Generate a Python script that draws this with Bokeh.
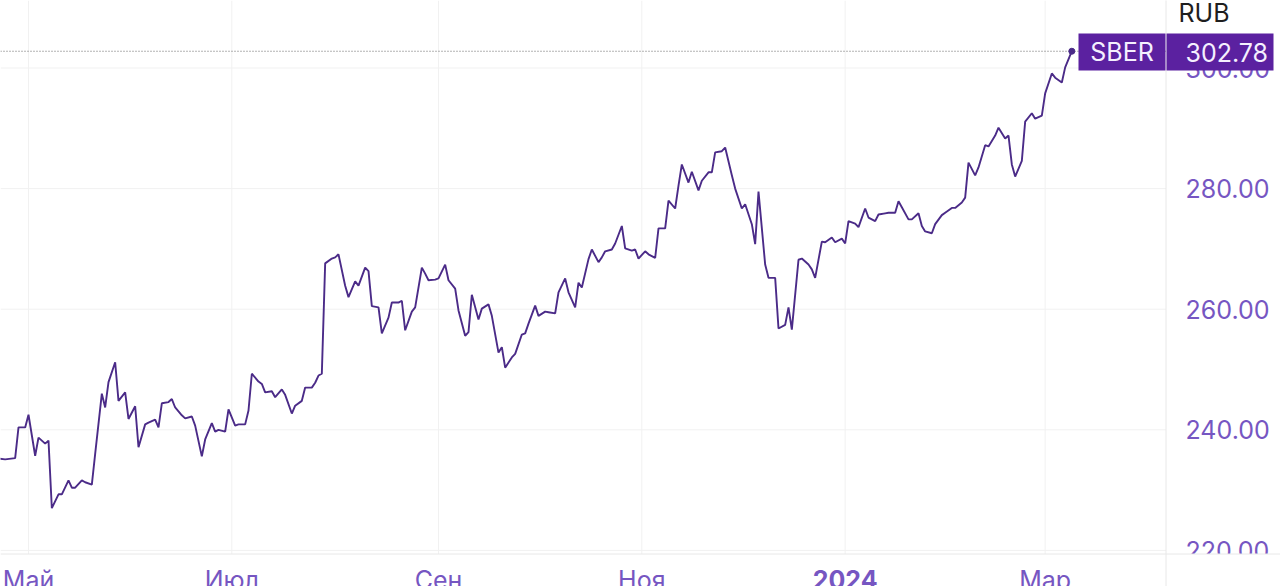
import pandas as pd
from bokeh.plotting import figure
from bokeh.models import Range1d
from bokeh.core.properties import value
from bokeh.embed import file_html
from bokeh.resources import INLINE

# ---------------- data ----------------
dates = [
    "2023-04-21", "2023-04-24", "2023-04-27", "2023-04-28", "2023-04-30",
    "2023-05-01", "2023-05-03", "2023-05-04", "2023-05-06", "2023-05-07", "2023-05-08",
    "2023-05-10", "2023-05-11", "2023-05-13", "2023-05-14", "2023-05-15", "2023-05-17",
    "2023-05-18", "2023-05-20", "2023-05-21", "2023-05-23", "2023-05-24", "2023-05-25",
    "2023-05-27", "2023-05-28", "2023-05-30", "2023-05-31",
    "2023-06-02", "2023-06-03", "2023-06-05", "2023-06-06", "2023-06-08", "2023-06-09",
    "2023-06-10", "2023-06-12", "2023-06-13", "2023-06-14", "2023-06-16", "2023-06-17",
    "2023-06-19", "2023-06-20", "2023-06-22", "2023-06-23", "2023-06-25", "2023-06-26",
    "2023-06-27", "2023-06-29", "2023-06-30",
    "2023-07-02", "2023-07-03", "2023-07-05", "2023-07-06", "2023-07-07", "2023-07-09",
    "2023-07-10", "2023-07-11", "2023-07-13", "2023-07-14", "2023-07-16", "2023-07-17",
    "2023-07-19", "2023-07-20", "2023-07-22", "2023-07-23", "2023-07-25", "2023-07-26",
    "2023-07-27", "2023-07-28", "2023-07-29", "2023-07-31",
    "2023-08-01", "2023-08-02", "2023-08-04", "2023-08-05", "2023-08-07", "2023-08-08",
    "2023-08-10", "2023-08-11", "2023-08-12", "2023-08-14", "2023-08-15", "2023-08-17",
    "2023-08-18", "2023-08-20", "2023-08-21", "2023-08-22", "2023-08-24", "2023-08-25",
    "2023-08-27", "2023-08-28", "2023-08-29", "2023-08-31",
    "2023-09-01", "2023-09-03", "2023-09-04", "2023-09-06", "2023-09-07", "2023-09-09",
    "2023-09-10", "2023-09-11", "2023-09-13", "2023-09-14", "2023-09-16", "2023-09-17",
    "2023-09-19", "2023-09-20", "2023-09-21", "2023-09-23", "2023-09-24", "2023-09-26",
    "2023-09-27", "2023-09-28", "2023-09-30",
    "2023-10-01", "2023-10-03", "2023-10-04", "2023-10-06", "2023-10-07", "2023-10-09",
    "2023-10-10", "2023-10-12", "2023-10-13", "2023-10-14", "2023-10-16", "2023-10-17",
    "2023-10-19", "2023-10-20", "2023-10-21", "2023-10-23", "2023-10-24", "2023-10-26",
    "2023-10-27", "2023-10-29", "2023-10-30", "2023-10-31",
    "2023-11-02", "2023-11-03", "2023-11-05", "2023-11-06", "2023-11-08", "2023-11-09",
    "2023-11-11", "2023-11-12", "2023-11-13", "2023-11-15", "2023-11-16", "2023-11-18",
    "2023-11-19", "2023-11-21", "2023-11-22", "2023-11-23", "2023-11-25", "2023-11-26",
    "2023-11-28", "2023-11-29",
    "2023-12-01", "2023-12-02", "2023-12-04", "2023-12-05", "2023-12-06", "2023-12-08",
    "2023-12-09", "2023-12-11", "2023-12-12", "2023-12-14", "2023-12-15", "2023-12-16",
    "2023-12-18", "2023-12-19", "2023-12-21", "2023-12-22", "2023-12-23", "2023-12-25",
    "2023-12-26", "2023-12-28", "2023-12-29", "2023-12-31",
    "2024-01-01", "2024-01-02", "2024-01-04", "2024-01-05", "2024-01-07", "2024-01-08",
    "2024-01-10", "2024-01-11", "2024-01-13", "2024-01-14", "2024-01-16", "2024-01-17",
    "2024-01-18", "2024-01-20", "2024-01-21", "2024-01-23", "2024-01-24", "2024-01-25",
    "2024-01-27", "2024-01-28", "2024-01-30", "2024-01-31",
    "2024-02-02", "2024-02-03", "2024-02-05", "2024-02-06", "2024-02-07", "2024-02-09",
    "2024-02-10", "2024-02-12", "2024-02-13", "2024-02-15", "2024-02-16", "2024-02-18",
    "2024-02-19", "2024-02-20", "2024-02-21", "2024-02-23", "2024-02-24", "2024-02-26",
    "2024-02-27", "2024-02-29",
    "2024-03-01", "2024-03-03", "2024-03-04", "2024-03-06", "2024-03-07", "2024-03-09",
]
prices = [
    235.3, 235.1, 235.3, 240.4, 240.4,
    242.5, 235.7, 238.7, 237.7, 238.2, 227.0,
    229.3, 229.3, 231.6, 230.4, 230.4, 231.6,
    231.3, 230.9, 236.0, 246.0, 243.7, 247.9,
    251.2, 244.8, 246.2, 241.8,
    243.9, 237.1, 240.9, 241.2, 241.7, 240.4,
    244.4, 244.6, 245.1, 243.7, 242.4, 241.9,
    242.2, 240.7, 235.6, 238.4, 241.1, 239.7,
    240.0, 239.7, 243.4,
    240.7, 240.9, 240.9, 243.2, 249.3, 248.0,
    247.6, 246.2, 246.4, 245.4, 246.7, 245.8,
    242.7, 244.0, 244.8, 247.0, 247.0, 247.8,
    249.0, 249.3, 267.6, 268.4,
    268.6, 269.1, 263.9, 262.0, 264.6, 263.9,
    266.9, 266.3, 260.5, 260.3, 256.0, 258.6,
    261.1, 261.1, 261.4, 256.5, 259.6, 260.3,
    266.9, 265.9, 264.8, 264.9,
    265.1, 267.4, 264.8, 263.4, 259.8, 255.6,
    256.2, 262.4, 258.3, 260.1, 260.8, 258.9,
    252.8, 253.7, 250.3, 252.0, 252.6, 255.8,
    256.0, 257.6, 260.6,
    258.9, 259.6, 259.5, 259.3, 262.8, 265.1,
    262.8, 260.3, 264.4, 263.6, 268.3, 269.9,
    267.8, 268.6, 269.6, 269.9, 270.9, 273.8,
    270.1, 269.7, 269.9, 268.4,
    269.6, 269.1, 268.5, 273.4, 273.4, 278.0,
    276.7, 280.5, 284.0, 281.0, 282.8, 279.7,
    281.3, 282.7, 282.7, 286.0, 286.2, 286.8,
    282.2, 280.0,
    276.7, 277.4, 274.1, 270.8, 279.5, 267.4,
    265.2, 265.2, 256.8, 257.4, 260.3, 256.6,
    268.2, 268.4, 267.4, 266.6, 265.2, 271.2,
    271.1, 271.9, 271.1, 271.7,
    270.9, 274.6, 274.2, 273.6, 276.7, 275.2,
    274.6, 275.7, 275.9, 276.0, 276.0, 277.9,
    276.9, 274.9, 274.9, 275.9, 273.8, 272.9,
    272.6, 274.1, 275.6, 276.0,
    276.8, 276.8, 277.7, 278.5, 284.3, 282.2,
    283.5, 287.2, 287.0, 288.8, 290.1, 288.3,
    288.8, 284.0, 282.0, 284.6, 291.1, 292.5,
    291.6, 292.1,
    295.8, 299.1, 298.4, 297.6, 300.1, 302.78,
]
tick_dates = ["2023-05-01", "2023-07-01", "2023-09-01", "2023-11-01", "2024-01-01", "2024-03-01"]
tick_labels = ["Май", "Июл", "Сен", "Ноя", "2024", "Мар"]
tick_styles = ["normal", "normal", "normal", "normal", "bold", "normal"]
y_ticks = [220, 240, 260, 280, 300]
symbol = "SBER"
currency = "RUB"

# ---------------- layout / style ----------------
FONT = value("Inter")
LINE_C = "#4b2b88"
TICK_C = "#7656c2"
BOX_C = "#5b21a0"
GRID_C = "#f1f1f1"
SEP_C = "#e8e8e8"
W, H = 1280, 586
SEP_X, AXIS_Y = 1165.5, 553.5           # pixel positions of panel separators

ORIGIN = pd.Timestamp("2023-05-01")     # pixel x = 28 at this date
DAYS_PER_PX, PX_PER_UNIT = 0.3, 6.03    # scale of the two axes


def xd(px):  # canvas pixel -> date
    return ORIGIN + pd.Timedelta(days=(px - 28) * DAYS_PER_PX)


def yd(py):  # canvas pixel -> price
    return 300 - (py - 67.5) / PX_PER_UNIT


tick_ts = pd.to_datetime(tick_dates)
last_date = pd.Timestamp(dates[-1])
last_price = prices[-1]

p = figure(width=W, height=H, x_axis_type="datetime",
           x_axis_location=None, y_axis_location=None,
           output_backend="svg", toolbar_location=None,
           x_range=Range1d(xd(0), xd(W)), y_range=Range1d(yd(H), yd(0)),
           min_border=0)
p.title.visible = False
p.outline_line_color = None
p.background_fill_color = "white"
p.border_fill_color = "white"
for g in p.grid:
    g.visible = False

# grid lines
p.segment(x0=tick_ts, x1=tick_ts, y0=[yd(AXIS_Y)] * len(tick_ts), y1=[yd(0)] * len(tick_ts),
          line_color=GRID_C, line_width=1)
p.segment(x0=[xd(0)] * len(y_ticks), x1=[xd(SEP_X)] * len(y_ticks), y0=y_ticks, y1=y_ticks,
          line_color=GRID_C, line_width=1)

# y tick labels (right panel)
p.text(x=[xd(1185)] * len(y_ticks), y=y_ticks, text=[f"{v:.2f}" for v in y_ticks],
       text_font=FONT, text_font_size="25px", text_color=TICK_C,
       text_align="left", text_baseline="middle")

# bottom strip covers the lowest tick label like the reference
p.quad(left=[xd(0)], right=[xd(W + 5)], top=[yd(AXIS_Y)], bottom=[yd(H + 5)],
       fill_color="white", line_color=None)

# panel separators
p.segment(x0=[xd(SEP_X)], x1=[xd(SEP_X)], y0=[yd(H + 5)], y1=[yd(-5)], line_color=SEP_C, line_width=1)
p.segment(x0=[xd(0)], x1=[xd(W + 5)], y0=[yd(AXIS_Y)], y1=[yd(AXIS_Y)], line_color=SEP_C, line_width=1)

# x tick labels
p.text(x=tick_ts, y=[yd(579)] * len(tick_ts), text=tick_labels,
       text_font=FONT, text_font_size="25px", text_color=TICK_C,
       text_font_style=tick_styles, text_align="center", text_baseline="middle")

# last-price dotted line
p.segment(x0=[xd(0)], x1=[xd(SEP_X)], y0=[last_price], y1=[last_price],
          line_color="#666666", line_dash="1 2", line_width=1)

# price line and last point
p.line(x=pd.to_datetime(dates), y=prices, line_color=LINE_C, line_width=1.9)
p.scatter(x=[last_date], y=[last_price], size=6, color=LINE_C)

# currency header
p.text(x=[xd(1178)], y=[yd(12.5)], text=[currency], text_font=FONT, text_font_size="25px",
       text_color="#1e1e1e", text_align="left", text_baseline="middle")

# symbol / price badge
p.quad(left=[xd(1078), xd(SEP_X + 0.5)], right=[xd(SEP_X - 0.5), xd(1273)],
       top=[yd(33)] * 2, bottom=[yd(70)] * 2, fill_color=BOX_C, line_color=None)
p.text(x=[xd(1121.5), xd(1185)], y=[yd(51.5)] * 2, text=[symbol, f"{last_price:.2f}"],
       text_font=FONT, text_font_size="25px", text_color="#f5f0ff",
       text_align=["center", "left"], text_baseline="middle")

open("out.html", "w").write(file_html(p, INLINE))
